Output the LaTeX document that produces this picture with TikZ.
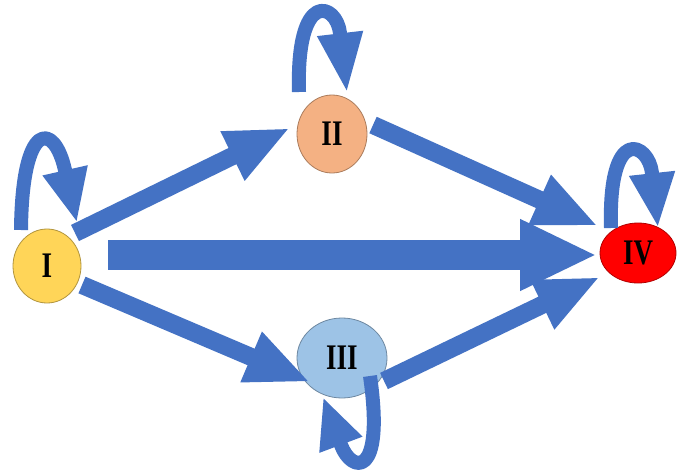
\documentclass[tikz,border=0pt]{standalone}
\usepackage{fontspec}
\setmainfont{Liberation Serif}
\usetikzlibrary{shapes.geometric,arrows.meta,calc}
\definecolor{arrowblue}{RGB}{68,114,196}
\definecolor{nodeyellow}{RGB}{255,213,88}
\definecolor{nodeorange}{RGB}{244,177,131}
\definecolor{nodelblue}{RGB}{157,195,230}
\definecolor{nodered}{RGB}{255,0,0}
\tikzset{
  state/.style={ellipse, inner sep=0pt, line width=0.8pt,
    font=\bfseries\fontsize{30}{30}\selectfont},
  blockarrow/.style={draw=arrowblue, line width=18pt,
    -{Triangle[length=64pt,width=50pt]}},
  widearrow/.style={draw=arrowblue, line width=30pt,
    -{Triangle[length=77pt,width=66pt]}},
  looparrow/.style={draw=arrowblue, line width=14pt, line join=round,
    -{Triangle[length=#1,width=42pt]}}
}
\newcommand{\statelabel}[1]{\scalebox{0.9}[1.2]{#1}}
\begin{document}
\begin{tikzpicture}[x=1pt,y=-1pt]
\useasboundingbox[fill=white] (0,0) rectangle (677,471);
% nodes
\node[state, fill=nodeyellow, draw=nodeyellow!70!black, minimum width=68pt, minimum height=74pt] (I) at (47,266) {\statelabel{I}};
\node[state, fill=nodeorange, draw=nodeorange!70!black, minimum width=70pt, minimum height=78pt] (II) at (332,134) {\statelabel{II}};
\node[state, fill=nodelblue, draw=nodelblue!70!black, minimum width=90pt, minimum height=80pt] (III) at (342,358) {\statelabel{III}};
\node[state, fill=nodered, draw=nodered!70!black, minimum width=76pt, minimum height=60pt] (IV) at (638,253) {\statelabel{IV}};
% straight arrows
\draw[blockarrow] ($(I.center)+(28,-33)$) -- ($(II.center)+(-42,-6)$);
\draw[blockarrow] ($(II.center)+(41,-9)$) -- ($(IV.center)+(-40,-27)$);
\draw[widearrow] ($(I.center)+(61,-11)$) -- ($(IV.center)+(-41,2)$);
\draw[blockarrow] ($(I.center)+(35,19)$) -- ($(III.center)+(-32,24)$);
\draw[blockarrow] ($(III.center)+(42,23)$) -- ($(IV.center)+(-38,24)$);
% self loops
\draw[looparrow=54pt] ($(I.center)+(-26,-36)$) .. controls ($(I.center)+(-25,-146)$) and ($(I.center)+(7,-145)$) .. ($(I.center)+(18,-96)$) -- ($(I.center)+(30,-43)$);
\draw[looparrow=60pt] ($(II.center)+(-33,-42)$) .. controls ($(II.center)+(-36,-146)$) and ($(II.center)+(4.5,-131)$) .. ($(II.center)+(8,-101)$) -- ($(II.center)+(15,-41)$);
\draw[looparrow=55pt] ($(IV.center)+(-27,-25)$) .. controls ($(IV.center)+(-30,-130)$) and ($(IV.center)+(10.8,-110)$) .. ($(IV.center)+(14,-80)$) -- ($(IV.center)+(20,-25)$);
\draw[looparrow=51pt] ($(III.center)+(28,18)$) .. controls ($(III.center)+(43,122)$) and ($(III.center)+(9.5,115)$) .. ($(III.center)+(-1,87)$) -- ($(III.center)+(-19,39)$);
\end{tikzpicture}
\end{document}
